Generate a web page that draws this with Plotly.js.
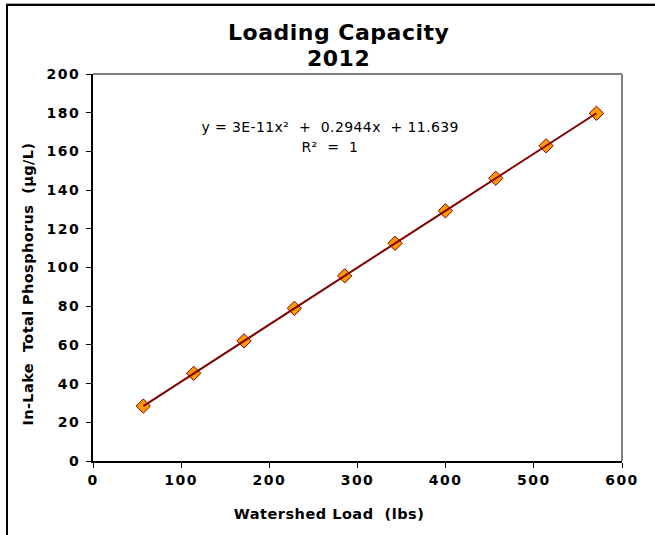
<!DOCTYPE html>
<html>
<head>
<meta charset="utf-8">
<script src="https://cdn.plot.ly/plotly-3.0.1.min.js"></script>
<style>
  html, body { margin: 0; padding: 0; background: #fff; }
  #chart { width: 655px; height: 535px; position: absolute; left: 0; top: 0; }
  #frame { position: absolute; left: 6px; top: 4px; width: 700px; height: 600px;
           border-left: 2px solid #000; border-top: 2px solid #000; pointer-events: none;
           box-shadow: 0 -1px 0 #aaa; }
  #chart .xtick text, #chart .ytick text { letter-spacing: 1.5px; }
</style>
</head>
<body>
<div id="chart"></div>
<div id="frame"></div>
<script>
// Data
const watershedLoad = [57.1, 114.2, 171.3, 228.4, 285.5, 342.6, 399.7, 456.8, 513.9, 571.0];
const inLakeTP = [28.4, 45.3, 62.1, 78.9, 95.7, 112.5, 129.3, 146.1, 162.9, 179.7];
const xTicks = [0, 100, 200, 300, 400, 500, 600];
const yTicks = [0, 20, 40, 60, 80, 100, 120, 140, 160, 180, 200];
const titleLine1 = "Loading Capacity";
const titleLine2 = "2012";
const xTitle = "Watershed Load  (lbs)";
const yTitle = "In-Lake  Total Phosphorus  (µg/L)";
const equationLine1 = "y = 3E-11x²  +  0.2944x  + 11.639";
const equationLine2 = "R²  =  1";

const font = "DejaVu Sans, Verdana, sans-serif";
const L = 93, T = 74, W = 529, H = 387;
const px = v => (v - L) / W;
const py = v => (T + H - v) / H;

const traces = [
  {
    x: watershedLoad, y: inLakeTP, type: 'scatter', mode: 'markers',
    marker: { symbol: 'diamond', size: 11, color: '#FF9900',
              line: { color: '#800000', width: 1 } },
    hoverinfo: 'skip', showlegend: false
  },
  {
    x: watershedLoad, y: inLakeTP, type: 'scatter', mode: 'lines',
    line: { color: '#800000', width: 2 },
    hoverinfo: 'skip', showlegend: false
  }
];

function ann(text, x, y, size, bold, extra) {
  return Object.assign({
    text: text, xref: 'paper', yref: 'paper', x: px(x), y: py(y),
    xanchor: 'center', yanchor: 'middle', showarrow: false,
    font: { family: font, size: size, color: '#000', weight: bold ? 'bold' : 'normal' }
  }, extra || {});
}

const layout = {
  width: 655, height: 535,
  margin: { l: L, r: 655 - L - W, t: T, b: 535 - T - H },
  paper_bgcolor: '#fff', plot_bgcolor: '#fff',
  showlegend: false,
  xaxis: {
    range: [0, 600], tickvals: xTicks, ticktext: xTicks.map(String),
    showgrid: false, zeroline: false, showline: true, linecolor: '#000', linewidth: 2,
    ticks: 'outside', ticklen: 5, tickwidth: 1, tickcolor: '#000',
    tickfont: { family: font, size: 14, color: '#000', weight: 'bold' },
    fixedrange: true
  },
  yaxis: {
    range: [0, 200], tickvals: yTicks, ticktext: yTicks.map(String),
    showgrid: false, zeroline: false, showline: true, linecolor: '#000', linewidth: 2,
    ticks: 'outside', ticklen: 5, tickwidth: 1, tickcolor: '#000', ticklabelstandoff: 3,
    tickfont: { family: font, size: 14, color: '#000', weight: 'bold' },
    fixedrange: true
  },
  shapes: [
    { type: 'line', xref: 'paper', yref: 'paper', x0: 0, x1: 1, y0: 1, y1: 1,
      line: { color: '#808080', width: 2 } },
    { type: 'line', xref: 'paper', yref: 'paper', x0: 1, x1: 1, y0: 0, y1: 1,
      line: { color: '#808080', width: 2 } }
  ],
  annotations: [
    ann(titleLine1, 338, 32, 22, true),
    ann(titleLine2, 338, 58, 22, true),
    ann(equationLine1, 330, 127, 14, false),
    ann(equationLine2, 330, 147, 14, false),
    ann(xTitle, 329, 514, 14.5, true),
    ann(yTitle, 28, 284, 14.5, true, { textangle: -90 })
  ]
};

Plotly.newPlot('chart', traces, layout, { staticPlot: true, displayModeBar: false }).then(() => {
  const spacing = ['0.5px', '0.5px', '0.4px', '0.4px', '0.5px', '0.4px'];
  document.querySelectorAll('#chart .annotation-text').forEach((el, i) => {
    el.style.letterSpacing = spacing[i] || '0px';
  });
});
</script>
</body>
</html>
